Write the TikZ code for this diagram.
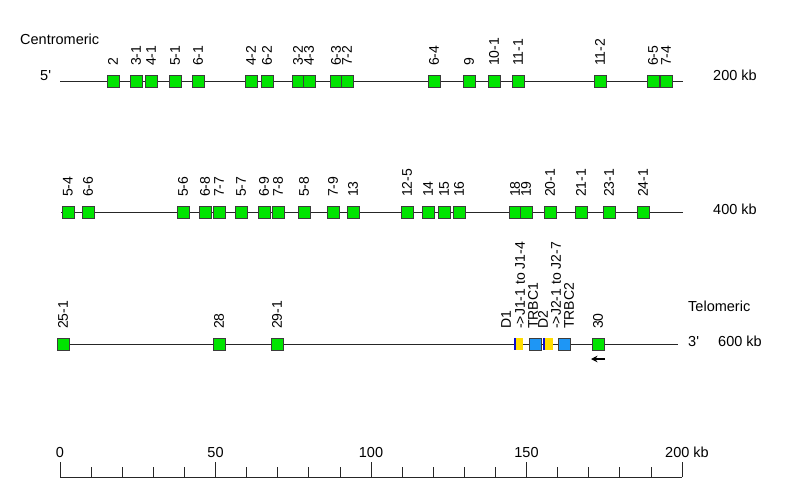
\documentclass[tikz,border=0pt]{standalone}
\usepackage{fontspec}
\setmainfont{Liberation Sans}
\usetikzlibrary{arrows.meta}
\definecolor{genegreen}{RGB}{0,228,0}
\definecolor{boxedge}{RGB}{60,60,60}
\definecolor{dyellow}{RGB}{255,221,0}
\definecolor{dblue}{RGB}{10,10,210}
\definecolor{cblue}{RGB}{30,150,245}
\newcommand{\labfont}{\fontsize{14}{16}\selectfont}
\newcommand{\txtfont}{\fontsize{14.5}{17}\selectfont}
\tikzset{
  gene/.style={draw=boxedge, fill=genegreen, minimum size=12pt, inner sep=0pt, line width=0.8pt},
  cbox/.style={draw=boxedge, fill=cblue, minimum size=12pt, inner sep=0pt, line width=0.8pt},
  dseg/.style={fill=dyellow, minimum width=7.5pt, minimum height=12.5pt, inner sep=0pt},
  dstripe/.style={fill=dblue, minimum width=2pt, minimum height=12.5pt, inner sep=0pt},
  lab/.style={rotate=90, anchor=west, inner sep=0pt, font=\labfont},
  txt/.style={anchor=base west, inner sep=0pt, font=\txtfont},
  rowline/.style={line width=0.8pt, black!85},
}
\begin{document}
\begin{tikzpicture}[x=1pt,y=-1pt]
\useasboundingbox (0,0) rectangle (789,503);
% ---------- row 1 ----------
\node[txt] (centro) at (20,45) {Centromeric};
\node[txt] (five) at (40,81) {5\textquotesingle};
\node[txt] (kb200) at (713,81) {200 kb};
\coordinate (r1s) at (60,81);
\coordinate (r1e) at (683,81);
\draw[rowline] (r1s) -- (r1e);
\foreach \x/\t [count=\i] in {113/2,136/3-1,151/4-1,175/5-1,198/6-1,251/4-2,267/6-2,298/3-2,309/4-3,336/6-3,347/7-2,434/6-4,469/9,494/10-1,518/11-1,600/11-2,653/6-5,666/7-4}{
  \node[gene] (a\i) at (\x,81) {};
  \node[lab] (la\i) at (\x,66) {\t};
}
% ---------- row 2 ----------
\node[txt] (kb400) at (713,214) {400 kb};
\coordinate (r2s) at (61,212);
\coordinate (r2e) at (683,212);
\draw[rowline] (r2s) -- (r2e);
\foreach \x/\t [count=\i] in {68/5-4,88/6-6,183/5-6,205/6-8,219/7-7,241/5-7,264/6-9,278/7-8,304/5-8,333/7-9,353/13,407/12-5,428/14,444/15,459/16,515/18,526/19,550/20-1,581/21-1,609/23-1,643/24-1}{
  \node[gene] (b\i) at (\x,212) {};
  \node[lab] (lb\i) at (\x,197) {\t};
}
% ---------- row 3 ----------
\node[txt] (telo) at (688,311) {Telomeric};
\node[txt] (three) at (688,346) {3\textquotesingle};
\node[txt] (kb600) at (718,346) {600 kb};
\coordinate (r3s) at (61,344);
\coordinate (r3e) at (678,344);
\draw[rowline] (r3s) -- (r3e);
\foreach \x/\t [count=\i] in {63/25-1,219/28,277/29-1,598/30}{
  \node[gene] (c\i) at (\x,344) {};
  \node[lab] (lc\i) at (\x,329) {\t};
}
\node[dseg] (d1y) at (519.5,344) {};
\node[dstripe] (d1b) at (515,344) {};
\node[cbox] (trbc1) at (535,344) {};
\node[dseg] (d2y) at (549,344) {};
\node[dstripe] (d2b) at (544.3,344) {};
\node[cbox] (trbc2) at (564.3,344) {};
\node[lab] (ld1) at (506,329) {D1};
\node[lab] (lj1) at (520,329) {->J1-1 to J1-4};
\node[lab] (lt1) at (533,329) {TRBC1};
\node[lab] (ld2) at (543,329) {D2};
\node[lab] (lj2) at (556,329) {->J2-1 to J2-7};
\node[lab] (lt2) at (569,329) {TRBC2};
\coordinate (arrS) at (605,359);
\coordinate (arrE) at (591,359);
\draw[line width=1.3pt, -{Stealth[length=6.5pt,width=6.5pt]}] (arrS) -- (arrE);
% ---------- scale ----------
\coordinate (s0) at (60,477);
\coordinate (s20) at (682,477);
\draw[line width=0.8pt, black!85] (s0) -- (s20);
\foreach \k in {0,...,20}{
  \pgfmathsetmacro{\xx}{60+\k*31.1}
  \pgfmathtruncatemacro{\mm}{mod(\k,5)}
  \coordinate (tk\k) at (\xx,477);
  \ifnum\mm=0
    \draw[line width=0.8pt, black!85] (tk\k) -- ++(0,-15);
  \else
    \draw[line width=0.8pt, black!85] (tk\k) -- ++(0,-10);
  \fi
}
\node[anchor=base, inner sep=0pt, font=\txtfont] (n0) at (60,457) {0};
\node[anchor=base, inner sep=0pt, font=\txtfont] (n50) at (215.5,457) {50};
\node[anchor=base, inner sep=0pt, font=\txtfont] (n100) at (371,457) {100};
\node[anchor=base, inner sep=0pt, font=\txtfont] (n150) at (526.5,457) {150};
\node[txt] (n200) at (665,457) {200 kb};
\end{tikzpicture}
\end{document}
